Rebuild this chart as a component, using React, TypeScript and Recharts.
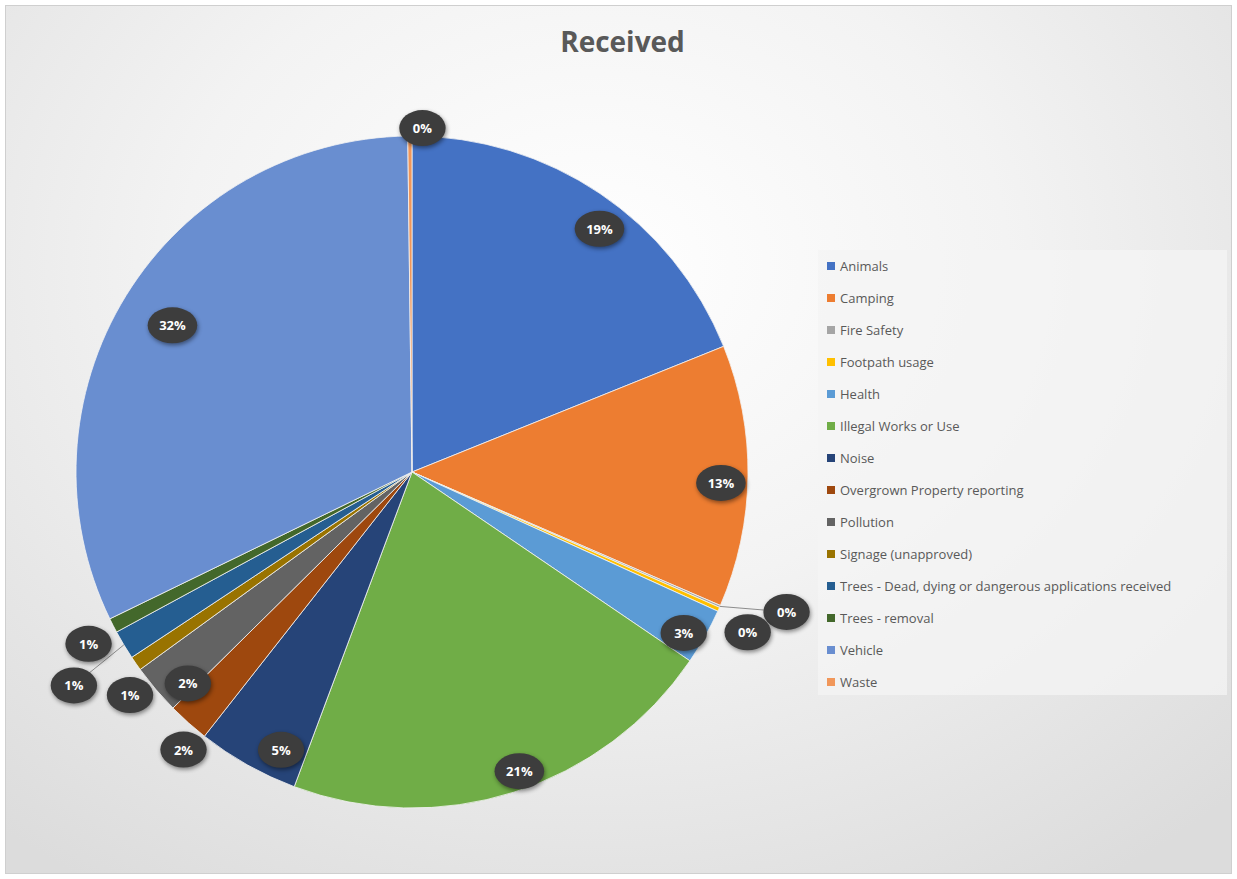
import React from 'react';
import { Cell, Legend, Pie, PieChart } from 'recharts';

// categories and their share of received requests (in %)
const categories = [
  'Animals',
  'Camping',
  'Fire Safety',
  'Footpath usage',
  'Health',
  'Illegal Works or Use',
  'Noise',
  'Overgrown Property reporting',
  'Pollution',
  'Signage (unapproved)',
  'Trees - Dead, dying or dangerous applications received',
  'Trees - removal',
  'Vehicle',
  'Waste',
];
const shares = [18.9, 12.6, 0.1, 0.2, 2.7, 21.2, 4.9, 2.0, 2.4, 0.7, 1.4, 0.7, 32.0, 0.2];

const colors = [
  '#4472C4',
  '#ED7D31',
  '#A5A5A5',
  '#FFC000',
  '#5B9BD5',
  '#70AD47',
  '#264478',
  '#9E480E',
  '#636363',
  '#997300',
  '#255E91',
  '#43682B',
  '#698ED0',
  '#F1975A',
];

// excel "best fit" label placement: radius factor and angle nudge (deg, clockwise)
const labelFit: { f: number; da: number }[] = [
  { f: 0.914, da: 3.6 },
  { f: 0.92, da: 1.3 },
  { f: 1.19, da: -3.1 },
  { f: 1.107, da: 1.4 },
  { f: 0.94, da: 1.3 },
  { f: 0.946, da: -2.1 },
  { f: 0.914, da: -4.1 },
  { f: 1.07, da: -2.3 },
  { f: 0.917, da: -3.0 },
  { f: 1.07, da: -3.6 },
  { f: 1.19, da: -1.3 },
  { f: 1.09, da: -0.8 },
  { f: 0.836, da: -0.2 },
  { f: 1.024, da: 2.1 },
];

const data = categories.map((name, i) => ({ name, value: shares[i] }));

const RAD = Math.PI / 180;

const renderLabel = (props: any) => {
  const { cx, cy, midAngle, outerRadius, percent, index } = props;
  const fit = labelFit[index];
  const a = 90 - midAngle; // clockwise from 12 o'clock
  const a2 = (a + fit.da) * RAD;
  const r = outerRadius * fit.f;
  const x = cx + r * Math.sin(a2);
  const y = cy - r * Math.cos(a2);
  const ex = cx + outerRadius * Math.sin(a * RAD);
  const ey = cy - outerRadius * Math.cos(a * RAD);
  const text = `${Math.round(percent * 100)}%`;
  const rx = 20 + text.length * 1.6;
  return (
    <g key={`lbl-${index}`}>
      {fit.f >= 1.15 && (
        <line x1={ex} y1={ey} x2={x} y2={y} stroke="#8c8c8c" strokeWidth={1} />
      )}
      <ellipse
        cx={x}
        cy={y}
        rx={rx}
        ry={18}
        fill="#3d3d3d"
        style={{ filter: 'drop-shadow(1px 2px 2px rgba(0,0,0,0.45))' }}
      />
      <text
        x={x}
        y={y}
        textAnchor="middle"
        dominantBaseline="central"
        fill="#ffffff"
        fontSize={13}
        fontWeight="bold"
        fontFamily="'Open Sans', sans-serif"
      >
        {text}
      </text>
    </g>
  );
};

const renderLegend = () => (
  <div
    style={{
      width: 409,
      height: 445,
      background: 'rgba(244,244,244,0.75)',
      boxSizing: 'border-box',
      padding: '0 0 0 9px',
    }}
  >
    {categories.map((name, i) => (
      <div
        key={name}
        style={{
          height: 32,
          display: 'flex',
          alignItems: 'center',
          fontFamily: "'Open Sans', sans-serif",
          fontSize: 13,
          color: '#595959',
          whiteSpace: 'nowrap',
        }}
      >
        <span
          style={{
            display: 'inline-block',
            width: 8,
            height: 8,
            background: colors[i],
            marginRight: 5,
          }}
        />
        {name}
      </div>
    ))}
  </div>
);

export default function App() {
  return (
    <div
      style={{
        position: 'absolute',
        left: 0,
        top: 0,
        width: 1237,
        height: 879,
        background: '#ffffff',
      }}
    >
      <div
        style={{
          position: 'absolute',
          left: 5,
          top: 5,
          width: 1225,
          height: 867,
          border: '1px solid #cfcfcf',
          background:
            'radial-gradient(ellipse 75% 85% at 48% 30%, #ffffff 0%, #f3f3f3 45%, #dcdcdc 100%)',
        }}
      />
      <div
        style={{
          position: 'absolute',
          left: 0,
          width: 1237,
          top: 22,
          textAlign: 'center',
          fontFamily: "'Open Sans', sans-serif",
          fontWeight: 'bold',
          fontSize: 28,
          color: '#595959',
          paddingLeft: 8,
          boxSizing: 'border-box',
        }}
      >
        Received
      </div>
      <div style={{ position: 'absolute', left: 0, top: 0 }}>
        <PieChart width={1237} height={879} margin={{ top: 0, right: 0, bottom: 0, left: 0 }}>
          <Pie
            data={data}
            dataKey="value"
            nameKey="name"
            cx={412}
            cy={472}
            outerRadius={336}
            startAngle={90}
            endAngle={-270}
            stroke="#f4f4f4"
            strokeWidth={0.8}
            label={renderLabel}
            labelLine={false}
            isAnimationActive={false}
          >
            {data.map((d, i) => (
              <Cell key={d.name} fill={colors[i]} />
            ))}
          </Pie>
          <Legend
            layout="vertical"
            content={renderLegend}
            wrapperStyle={{ left: 818, top: 250, width: 409, height: 445 }}
          />
        </PieChart>
      </div>
    </div>
  );
}
